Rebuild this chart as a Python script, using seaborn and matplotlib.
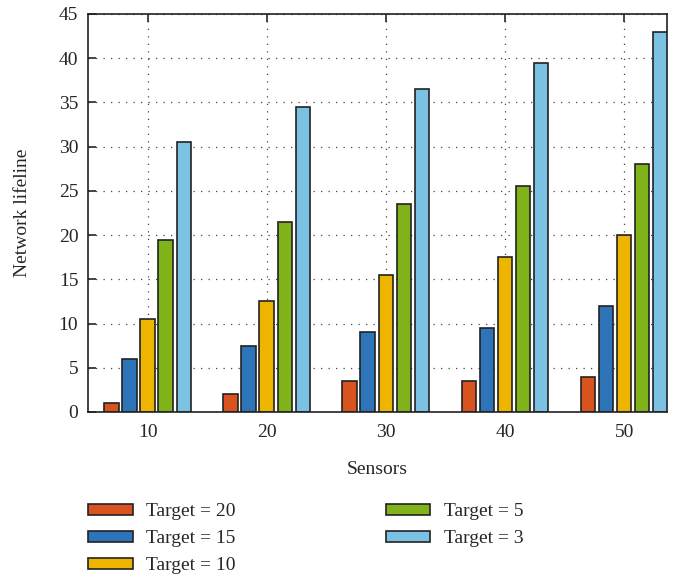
import pandas as pd
import seaborn as sns
import matplotlib.pyplot as plt

# values
sensors = ['10', '20', '30', '40', '50']
targets = ['Target = 20', 'Target = 15', 'Target = 10', 'Target = 5', 'Target = 3']
t20 = [1, 2, 3.5, 3.5, 4]
t15 = [6, 7.5, 9, 9.5, 12]
t10 = [10.5, 12.5, 15.5, 17.5, 20]
t5 = [19.5, 21.5, 23.5, 25.5, 28]
t3 = [30.5, 34.5, 36.5, 39.5, 43]
colors = ['#D9531E', '#2E74B8', '#EDB400', '#80B21A', '#7AC1E3']

rows = []
for name, vals in zip(targets, [t20, t15, t10, t5, t3]):
    for s, v in zip(sensors, vals):
        rows.append({'Sensors': s, 'Target': name, 'Lifeline': v})
df = pd.DataFrame(rows)

sns.set_style('ticks')
plt.rcParams['font.family'] = ['Liberation Serif', 'DejaVu Serif']

fig = plt.figure(figsize=(6.74, 5.78), dpi=100)
ax = fig.add_axes([0.1306, 0.2872, 0.859, 0.6886])

sns.barplot(data=df, x='Sensors', y='Lifeline', hue='Target', hue_order=targets,
            palette=colors, width=0.76, gap=0.2, edgecolor='#222222',
            linewidth=1.2, saturation=1, ax=ax)

ax.set_xlim(-0.5, 4.36)
ax.set_ylim(0, 45)
ax.set_yticks(range(0, 46, 5))
ax.grid(True, linestyle=(0, (1, 5)), color='#444444', linewidth=0.9)
ax.set_axisbelow(True)
ax.tick_params(direction='in', top=True, right=False, labelsize=14, length=6, width=1.2)
ax.tick_params(axis='x', pad=9)
ax.tick_params(axis='y', pad=7)
for sp in ax.spines.values():
    sp.set_visible(True)
    sp.set_color('#222222')
    sp.set_linewidth(1.2)
ax.set_xlabel('Sensors', fontsize=14, labelpad=14)
ax.set_ylabel('Network lifeline', fontsize=14, labelpad=20)

handles, labels = ax.get_legend_handles_labels()
ax.legend_.remove()
fig.legend(handles, labels, loc='upper left', bbox_to_anchor=(88 / 674, 1 - 503 / 578),
           ncol=2, frameon=False, fontsize=14, handlelength=2.3, handleheight=0.5,
           columnspacing=7.7, labelspacing=0.52, handletextpad=0.7,
           borderpad=0, borderaxespad=0)

fig.savefig('out.png', dpi=100)
